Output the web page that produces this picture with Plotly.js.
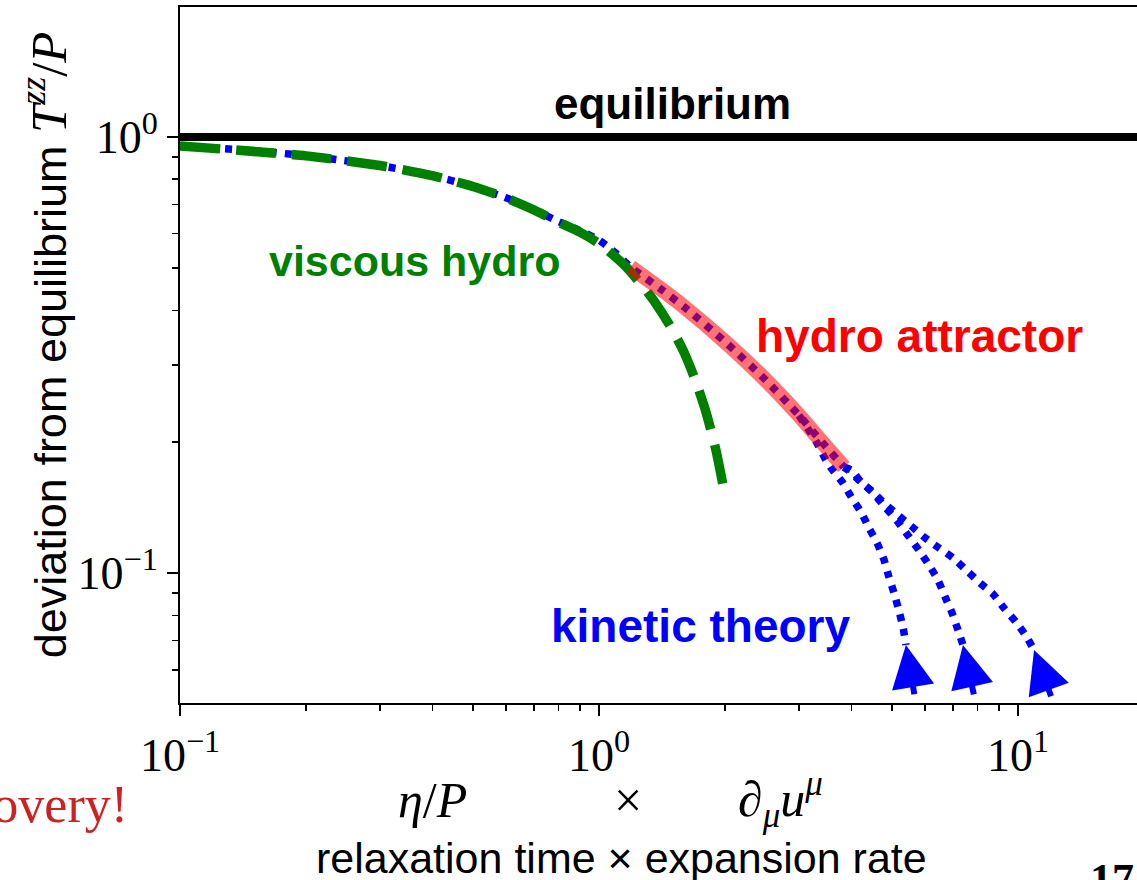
<!DOCTYPE html>
<html>
<head>
<meta charset="utf-8">
<script src="https://cdn.plot.ly/plotly-3.0.1.min.js"></script>
<style>
html,body{margin:0;padding:0;overflow:hidden;background:#fff;width:1137px;height:880px;}
#plot{width:1180px;height:880px;}
</style>
</head>
<body>
<div id="plot"></div>
<script>
// ---- data ----
// kinetic theory attractor (common part of the kinetic-theory curves)
const kinX = [0.1, 0.15, 0.2, 0.3, 0.4, 0.5, 0.6, 0.7, 0.8, 0.9, 1.0, 1.1, 1.19, 1.4, 1.6, 2.0, 2.5, 3.0, 3.4, 3.84];
const kinY = [0.954, 0.93, 0.905, 0.86, 0.815, 0.77, 0.725, 0.68, 0.64, 0.61, 0.58, 0.54, 0.503, 0.449, 0.407, 0.339, 0.277, 0.23, 0.20, 0.175];
// kinetic theory branches leaving the attractor
const branch1X = [3.0, 3.3, 3.48, 3.58, 3.82, 4.0, 4.22, 4.41, 4.61, 4.79, 4.92, 5.06, 5.2, 5.32, 5.4];
const branch1Y = [0.23, 0.2, 0.1816, 0.1741, 0.1609, 0.1494, 0.138, 0.1268, 0.1172, 0.1071, 0.0979, 0.09, 0.0818, 0.0748, 0.0684];
const branch2X = [3.84, 3.93, 4.22, 4.51, 4.84, 5.17, 5.5, 5.8, 6.13, 6.44, 6.7, 6.96, 7.19, 7.39];
const branch2Y = [0.175, 0.1723, 0.1617, 0.1526, 0.1409, 0.1309, 0.1209, 0.1129, 0.1043, 0.0964, 0.0881, 0.081, 0.074, 0.0684];
const branch3X = [3.84, 4.0, 4.22, 4.51, 4.79, 5.17, 5.56, 5.97, 6.48, 7.0, 7.56, 8.12, 8.72, 9.26, 9.89, 10.45, 10.92];
const branch3Y = [0.175, 0.1723, 0.1617, 0.1534, 0.1447, 0.1358, 0.1282, 0.1209, 0.1141, 0.1083, 0.1011, 0.0948, 0.0895, 0.0831, 0.0772, 0.0717, 0.0666];
// arrow tails (below the branch ends)
const arrowTailX = [5.71, 7.94, 12.19];
const arrowTailY = [0.05, 0.05, 0.05];
// viscous hydro
const visX = [0.1, 0.2, 0.3, 0.4, 0.5, 0.6, 0.7, 0.8, 0.9, 1.0, 1.15, 1.3, 1.4, 1.5, 1.6, 1.7, 1.8, 1.9, 2.0];
const visY = [0.954, 0.905, 0.86, 0.815, 0.77, 0.725, 0.68, 0.638, 0.605, 0.57, 0.508, 0.443, 0.401, 0.36, 0.319, 0.276, 0.234, 0.192, 0.15];
// hydro attractor
const attrX = [1.19, 1.4, 1.6, 2.0, 2.5, 3.0, 3.4, 3.84];
const attrY = [0.503, 0.449, 0.407, 0.339, 0.277, 0.23, 0.20, 0.175];
// equilibrium
const eqX = [0.1, 30];
const eqY = [1, 1];
// ticks
const xTickVals = [0.1, 1, 10];
const xTickText = ['10<sup>−1</sup>', '10<sup>0</sup>', '10<sup>1</sup>'];
const yTickVals = [0.1, 1];
const yTickText = ['10<sup>−1</sup>', '10<sup>0</sup>'];

// ---- chart ----
const BLUE = '#0000ff', GREEN = '#008000';
const SANS = 'Liberation Sans, Arial, sans-serif';
const SERIF = 'Liberation Serif, Times New Roman, serif';
const blueDash = '7px,8px';

function minorTicks(lo, hi) {
  const out = [];
  for (let e = lo; e <= hi; e++) for (let m = 2; m <= 9; m++) out.push(m * Math.pow(10, e));
  return out;
}

const blueLine = {color: BLUE, width: 7.5, dash: blueDash, shape: 'spline', smoothing: 0.6};
const traces = [
  {x: kinX, y: kinY, mode: 'lines', line: blueLine},
  {x: branch1X, y: branch1Y, mode: 'lines', line: blueLine},
  {x: branch2X, y: branch2Y, mode: 'lines', line: blueLine},
  {x: branch3X, y: branch3Y, mode: 'lines', line: blueLine},
  {x: visX, y: visY, mode: 'lines', line: {color: GREEN, width: 9.5, dash: '40px,16px', shape: 'spline', smoothing: 0.6}},
  {x: attrX, y: attrY, mode: 'lines', line: {color: '#ff0000', width: 15, shape: 'spline', smoothing: 0.6}, opacity: 0.55},
  {x: eqX, y: eqY, mode: 'lines', line: {color: '#000', width: 8}}
];

const branches = [[branch1X, branch1Y], [branch2X, branch2Y], [branch3X, branch3Y]];
const annotations = branches.map((b, i) => ({
  x: Math.log10(b[0][b[0].length - 1]), y: Math.log10(b[1][b[1].length - 1]),
  xref: 'x', yref: 'y', axref: 'x', ayref: 'y',
  ax: Math.log10(arrowTailX[i]), ay: Math.log10(arrowTailY[i]),
  text: ' ', showarrow: true, arrowhead: 2, arrowsize: 1.42, arrowwidth: 6, arrowcolor: BLUE
}));

function lab(text, x, y, color, size, extra) {
  return Object.assign({text: text, x: x, y: y, xref: 'paper', yref: 'paper', showarrow: false,
    xanchor: 'center', yanchor: 'middle',
    font: {family: SANS, size: size, color: color}}, extra || {});
}
const mathFont = {family: SERIF, size: 50, color: '#000'};

annotations.push(
  lab('<b>equilibrium</b>', 0.492, 0.862, '#000', 44),
  lab('<b>viscous hydro</b>', 0.235, 0.635, GREEN, 43),
  lab('<b>hydro attractor</b>', 0.739, 0.528, '#ff0000', 46),
  lab('<b>kinetic theory</b>', 0.521, 0.111, BLUE, 46),
  lab('deviation from equilibrium <span style="font-family:Liberation Serif;font-size:51px"><i>T</i><sup><i>zz</i></sup>/<i>P</i></span>',
      -0.135, 0.514, '#000', 45, {textangle: -90}),
  lab('<i>η</i>/<i>P</i>', 0.252, -0.139, '#000', 50, {font: mathFont}),
  lab('×', 0.448, -0.139, '#000', 50, {font: mathFont}),
  lab('∂<sub><i>μ</i></sub><i>u</i><sup><i>μ</i></sup>', 0.600, -0.139, '#000', 50, {font: mathFont}),
  lab('relaxation time × expansion rate', 0.441, -0.222, '#000', 43),
  lab('Discovery!', -0.05, -0.146, '#cc2222', 52, {xanchor: 'right', font: {family: SERIF, size: 52, color: '#cc2222'}}),
  lab('<b>17</b>', 0.908, -0.215, '#000', 44, {xanchor: 'left', yanchor: 'top', font: {family: SERIF, size: 44, color: '#000'}})
);

const layout = {
  width: 1180, height: 880,
  margin: {l: 180, r: 0, t: 7, b: 177},
  paper_bgcolor: '#fff', plot_bgcolor: '#fff',
  showlegend: false,
  xaxis: {
    type: 'log', range: [-1, 1.3866], showgrid: false, zeroline: false,
    showline: true, linecolor: '#000', linewidth: 2, mirror: true,
    ticks: 'outside', ticklen: 11, tickwidth: 2, tickcolor: '#000',
    tickvals: xTickVals, ticktext: xTickText,
    tickfont: {family: SERIF, size: 46, color: '#000'},
    minor: {tickvals: minorTicks(-1, 1), ticks: 'outside', ticklen: 6, tickwidth: 1.5, tickcolor: '#000', showgrid: false}
  },
  yaxis: {
    type: 'log', range: [-1.298, 0.298], showgrid: false, zeroline: false,
    showline: true, linecolor: '#000', linewidth: 2, mirror: true,
    ticks: 'outside', ticklen: 11, tickwidth: 2, tickcolor: '#000',
    tickvals: yTickVals, ticktext: yTickText,
    tickfont: {family: SERIF, size: 46, color: '#000'},
    minor: {tickvals: minorTicks(-2, 0), ticks: 'outside', ticklen: 6, tickwidth: 1.5, tickcolor: '#000', showgrid: false}
  },
  annotations: annotations
};

Plotly.newPlot('plot', traces, layout, {displayModeBar: false, staticPlot: true});
</script>
</body>
</html>
